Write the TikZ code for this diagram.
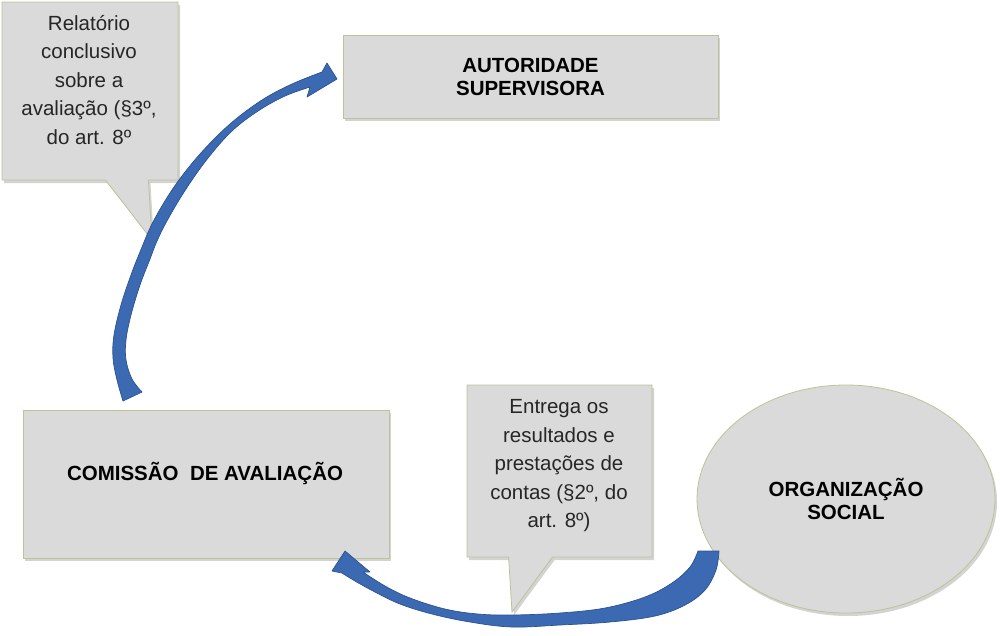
\documentclass[tikz,border=0pt]{standalone}
\usepackage{fontspec}
\setmainfont{Liberation Sans}
\usetikzlibrary{shapes.callouts,shapes.geometric,shadows}
\definecolor{boxfill}{RGB}{218,218,218}
\definecolor{boxedge}{RGB}{190,194,150}
\definecolor{arrowblue}{RGB}{60,106,178}
\definecolor{arrowedge}{RGB}{44,82,145}
\tikzset{
  panel/.style={draw=boxedge, fill=boxfill, line width=0.8pt,
    drop shadow={opacity=0.35, shadow xshift=2pt, shadow yshift=-3pt}},
  boxnode/.style={panel, rectangle, inner sep=0pt},
  calloutnode/.style={panel, rectangle callout, inner sep=0pt},
  boldtext/.style={font=\fontsize{20.5}{23}\selectfont\bfseries, align=center, text=black},
  calltext/.style={font=\fontsize{20.5}{28.5}\selectfont, align=center, text=black!85},
  bluearrow/.style={fill=arrowblue, draw=arrowedge, line width=0.7pt, line join=round},
}
\begin{document}
\begin{tikzpicture}[x=1pt,y=-1pt]
\useasboundingbox (0,0) rectangle (1000,635);
\coordinate (tip1) at (152,240);
\coordinate (tip2) at (512,612);
% callout 1
\node[calloutnode, minimum width=176pt, minimum height=178pt,
  callout absolute pointer={(tip1)}, callout pointer width=43pt] (call1) at (90,91) {};
\node[calltext] (t1) at (89,80) {Relatório\\conclusivo\\sobre a\\avaliação (§3º,\\do art. 8º};
% autoridade
\node[boxnode, minimum width=375pt, minimum height=83pt, boldtext] (aut) at (530.5,76.5) {AUTORIDADE\\SUPERVISORA};
% comissao
\node[boxnode, minimum width=366pt, minimum height=148pt] (com) at (206,484) {};
\node[boldtext] (comt) at (205,473) {COMISSÃO~~DE AVALIAÇÃO};
% callout 2
\node[calloutnode, minimum width=185pt, minimum height=172pt,
  callout absolute pointer={(tip2)}, callout pointer width=44pt] (call2) at (559.5,471) {};
\node[calltext] (t2) at (559,466) {Entrega os\\resultados e\\prestações de\\contas (§2º, do\\art. 8º)};
% organizacao
\node[panel, ellipse, minimum width=298pt, minimum height=228pt, inner sep=0pt, boldtext] (org) at (846,499) {ORGANIZAÇÃO\\SOCIAL};
% arrow 1
\path[bluearrow] plot[smooth, tension=0.6] coordinates {(123,401) (117,380) (113,358) (114,335) (121,305) (131,275) (140,252) (153,222) (174,187) (200,154) (230,124) (262,100) (292,84) (322,72)}
  -- (327,63) -- (337,79) -- (307,97) -- (310,87)
  -- plot[smooth, tension=0.6] coordinates {(310,87) (285,96) (258,111) (232,131) (208,158) (186,189) (168,219) (157,241) (150,259) (140,285) (131,315) (126,340) (126,360) (132,379) (142,392)} -- cycle;
% arrow 2
\path[bluearrow] plot[smooth, tension=0.6] coordinates {(719,551) (716,570) (705,590) (685,605) (655,616) (610,622) (560,625) (512,627) (470,622) (432,614) (400,604) (375,592) (355,581) (342,573)}
  -- (332,571) -- (345,551) -- (370,572) -- (363,572)
  -- plot[smooth, tension=0.6] coordinates {(363,572) (385,586) (410,598) (445,609) (478,614) (512,615) (560,613) (605,608) (645,597) (672,583) (690,567) (698,551)} -- cycle;
\end{tikzpicture}
\end{document}
